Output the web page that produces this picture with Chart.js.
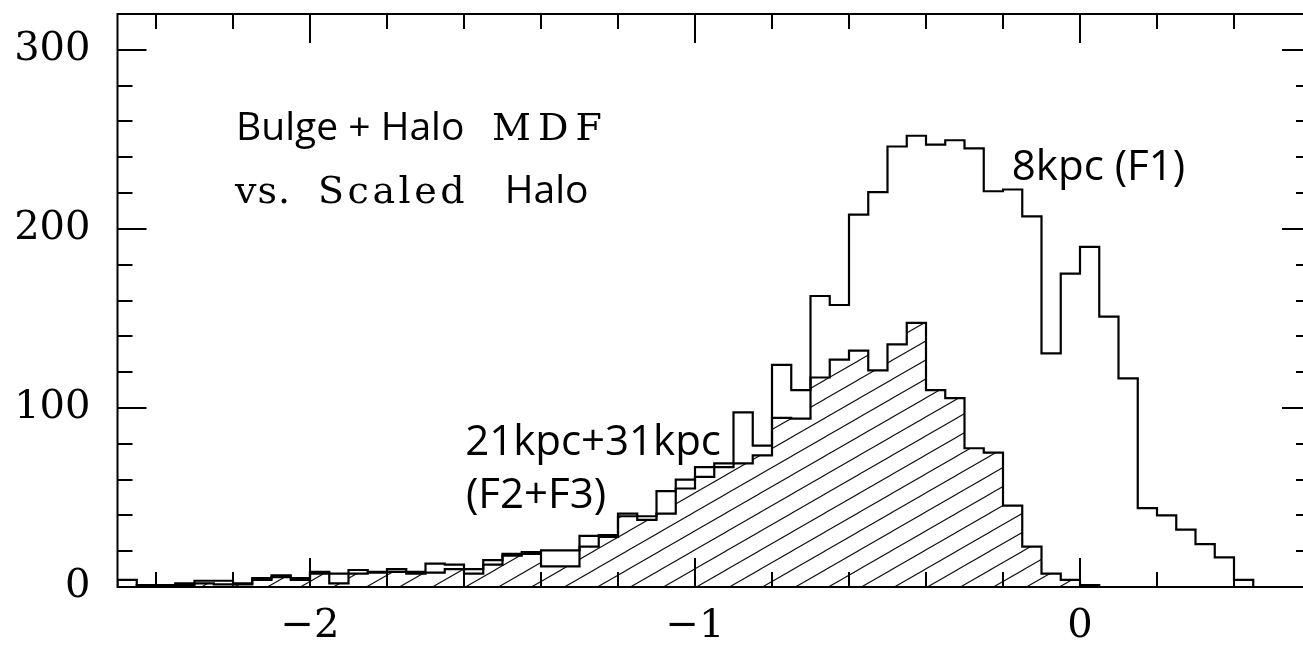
<!DOCTYPE html>
<html>
<head>
<meta charset="utf-8">
<title>Bulge + Halo MDF vs. Scaled Halo</title>
<script src="https://cdn.jsdelivr.net/npm/chart.js@4.4.1/dist/chart.umd.min.js"></script>
<style>
  html, body { margin: 0; padding: 0; background: #fff; overflow: hidden; }
  #wrap { width: 1303px; height: 648px; overflow: hidden; }
  canvas { display: block; }
</style>
</head>
<body>
<div id="wrap"><canvas id="mdf" width="1330" height="648"></canvas></div>
<script>
// [Fe/H] bins: 0.05 dex wide, first bin starts at -2.5
const binStart = -2.5;
const binWidth = 0.05;

// 8 kpc field (F1), bulge + halo counts per bin
const countsF1 = [
  4, 1, 1, 2, 3.5, 3.5, 2, 5, 6.5, 5,
  8.5, 7.5, 9.5, 8.5, 10, 8.5, 13, 12.5, 10, 15,
  18.5, 19.5, 20.5, 20.5, 28.5, 29, 41, 39.5, 53.5, 60,
  67, 69, 97.5, 79, 124, 110, 162.5, 157.5, 208, 220.5,
  246, 252, 247, 249.5, 245, 221, 222, 207, 130.5, 175,
  190, 151, 116.5, 44, 40, 32, 24, 16.5, 4, 0,
  0, 0
];

// 21 kpc + 31 kpc fields (F2+F3), scaled halo
const countsHalo = [
  0, 1, 0.5, 1, 2, 1.5, 1.5, 4, 5.5, 4,
  7.5, 2, 7.5, 8, 8.5, 7.5, 8, 10, 7.5, 12.5,
  17.5, 18.5, 11.5, 11.5, 22.5, 28, 39.5, 37.5, 41, 55,
  61.5, 67, 69, 73.5, 94.5, 94, 117, 127, 132, 121,
  135.5, 147.5, 110, 105.5, 77.5, 75, 45.5, 22.5, 7.5, 4,
  1, 0, 0, 0, 0, 0, 0, 0, 0, 0,
  0, 0
];

const xMajorTicks = [-2, -1, 0];
const yMajorTicks = [0, 100, 200, 300];
const xMinorStep = 0.2;
const yMinorStep = 20;

// text labels inside the frame, placed in data coordinates
const notes = [
  { text: 'Bulge + Halo', x: -2.192, y: 249.7, font: '39px "Open Sans"' },
  { text: 'MDF', x: -1.527, y: 249.7, font: '38px "DejaVu Serif"', spacing: 7 },
  { text: 'vs.', x: -2.195, y: 214.5, font: '38px "DejaVu Serif"', spacing: 1 },
  { text: 'Scaled', x: -1.979, y: 214.5, font: '38px "DejaVu Serif"', spacing: 3.5 },
  { text: 'Halo', x: -1.494, y: 214.5, font: '39px "Open Sans"' },
  { text: '8kpc (F1)', x: -0.177, y: 227.4, font: '42px "Open Sans"' },
  { text: '21kpc+31kpc', x: -1.597, y: 73.7, font: '42px "Open Sans"' },
  { text: '(F2+F3)', x: -1.595, y: 44.1, font: '42px "Open Sans"' }
];

// turn per-bin counts into step outline points (left bin edges + closing edge)
function stepPoints(counts) {
  const pts = [{ x: binStart, y: 0 }];
  counts.forEach((c, i) => pts.push({ x: binStart + i * binWidth, y: c }));
  pts.push({ x: binStart + counts.length * binWidth, y: 0 });
  return pts;
}

function hatchPattern() {
  const w = 33, h = 19;
  const c = document.createElement('canvas');
  c.width = w; c.height = h;
  const g = c.getContext('2d');
  g.strokeStyle = '#111';
  g.lineWidth = 1.1;
  for (let k = -1; k <= 1; k++) {
    g.beginPath();
    g.moveTo(k * w - w, 2 * h);
    g.lineTo(k * w + 2 * w, -h);
    g.stroke();
  }
  return g.createPattern(c, 'repeat');
}

function fmt(v) {
  return v < 0 ? '\u2212' + Math.abs(v) : String(v);
}

// box frame with inward ticks on all four sides
const frame = {
  id: 'frame',
  afterDraw(chart) {
    const { ctx, chartArea: a, scales: { x, y } } = chart;
    ctx.save();
    ctx.strokeStyle = '#000';
    ctx.lineWidth = 2;
    ctx.strokeRect(a.left, a.top, a.right - a.left, a.bottom - a.top);
    ctx.beginPath();
    const k0 = Math.ceil(x.min / xMinorStep), k1 = Math.floor(x.max / xMinorStep + 1e-9);
    for (let k = k0; k <= k1; k++) {
      const v = k * xMinorStep;
      const major = xMajorTicks.some(t => Math.abs(t - v) < 1e-6);
      const len = major ? 29 : 15;
      const px = Math.round(x.getPixelForValue(v));
      ctx.moveTo(px, a.bottom); ctx.lineTo(px, a.bottom - len);
      ctx.moveTo(px, a.top); ctx.lineTo(px, a.top + len);
    }
    for (let k = 1; k * yMinorStep < y.max; k++) {
      const v = k * yMinorStep;
      const major = yMajorTicks.includes(v);
      const len = major ? 29 : 15;
      const py = Math.round(y.getPixelForValue(v));
      ctx.moveTo(a.left, py); ctx.lineTo(a.left + len, py);
      ctx.moveTo(a.right, py); ctx.lineTo(a.right - len, py);
    }
    ctx.stroke();

    ctx.fillStyle = '#000';
    ctx.textBaseline = 'alphabetic';
    ctx.textAlign = 'left';
    notes.forEach(n => {
      ctx.font = n.font;
      let px = x.getPixelForValue(n.x);
      const py = y.getPixelForValue(n.y);
      if (n.spacing) {
        for (const ch of n.text) {
          ctx.fillText(ch, px, py);
          px += ctx.measureText(ch).width + n.spacing;
        }
      } else {
        ctx.fillText(n.text, px, py);
      }
    });
    ctx.restore();
  }
};

function noPad(s) {
  s.paddingLeft = s.paddingRight = s.paddingTop = s.paddingBottom = 0;
}

const tickFont = { family: 'DejaVu Serif', size: 40 };

new Chart(document.getElementById('mdf'), {
  type: 'line',
  data: {
    datasets: [
      {
        label: '8kpc (F1)',
        data: stepPoints(countsF1),
        stepped: true,
        borderColor: '#000',
        borderWidth: 2.2,
        pointRadius: 0,
        fill: false
      },
      {
        label: '21kpc+31kpc (F2+F3)',
        data: stepPoints(countsHalo),
        stepped: true,
        borderColor: '#000',
        borderWidth: 2.2,
        pointRadius: 0,
        fill: 'origin',
        backgroundColor: hatchPattern()
      }
    ]
  },
  options: {
    responsive: false,
    animation: false,
    layout: { padding: { top: 14, right: 19, left: 0, bottom: 0 } },
    plugins: { legend: { display: false }, tooltip: { enabled: false } },
    scales: {
      x: {
        type: 'linear',
        min: -2.5,
        max: 0.6,
        grid: { display: false, drawTicks: false },
        border: { display: false },
        afterBuildTicks: s => { s.ticks = xMajorTicks.map(v => ({ value: v })); },
        afterFit: s => { s.height = 61; noPad(s); },
        ticks: {
          autoSkip: false, maxRotation: 0, padding: 16,
          color: '#000', font: tickFont, callback: v => fmt(v)
        }
      },
      y: {
        min: 0,
        max: 320,
        grid: { display: false, drawTicks: false },
        border: { display: false },
        afterBuildTicks: s => { s.ticks = yMajorTicks.map(v => ({ value: v })); },
        afterFit: s => { s.width = 117.5; noPad(s); },
        ticks: {
          autoSkip: false, padding: 27,
          color: '#000', font: tickFont, callback: v => fmt(v)
        }
      }
    }
  },
  plugins: [frame]
});
</script>
</body>
</html>
